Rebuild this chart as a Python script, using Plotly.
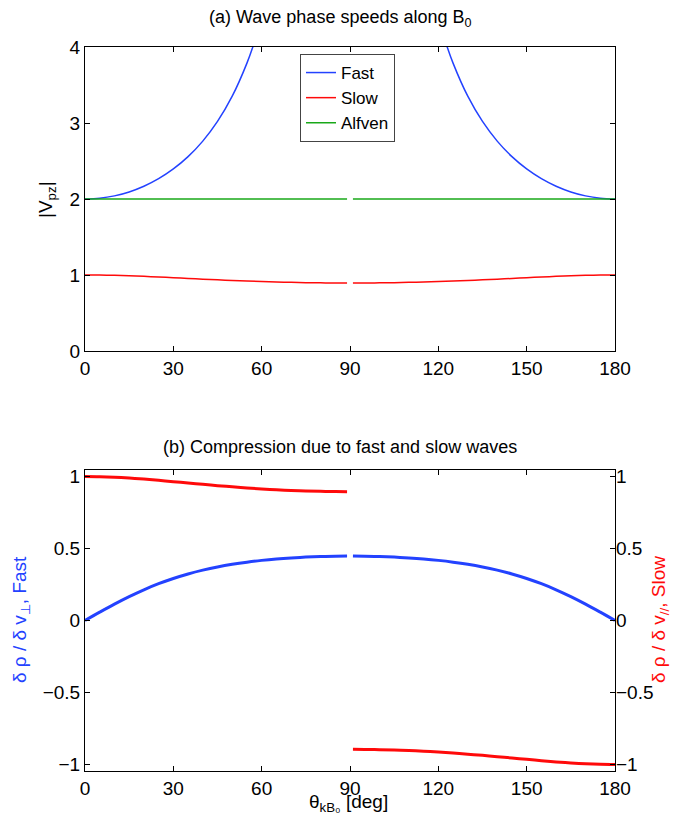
import plotly.graph_objects as go

# ---------------- data ----------------
theta_fast_l = [0, 5, 10, 15, 20, 25, 30, 35, 40, 45, 50, 55, 57.5, 60]
vfast_l = [2.0, 2.0102, 2.0409, 2.0929, 2.1675, 2.2671, 2.3952, 2.5573, 2.7617,
           3.0204, 3.3526, 3.7882, 4.0594, 4.3778]
theta_fast_r = [120, 122.5, 125, 130, 135, 140, 145, 150, 155, 160, 165, 170, 175, 180]
vfast_r = [4.3778, 4.0594, 3.7882, 3.3526, 3.0204, 2.7617, 2.5573, 2.3952, 2.2671,
           2.1675, 2.0929, 2.0409, 2.0102, 2.0]

theta_l = [0, 5, 10, 15, 20, 25, 30, 35, 40, 45, 50, 55, 60, 65, 70, 75, 80, 85, 89]
theta_r = [91, 95, 100, 105, 110, 115, 120, 125, 130, 135, 140, 145, 150, 155, 160,
           165, 170, 175, 180]

vslow_l = [1.0, 0.99872, 0.99507, 0.98933, 0.98194, 0.97338, 0.96415, 0.95475, 0.94537,
           0.93642, 0.92803, 0.92049, 0.91370, 0.90789, 0.90308, 0.89931, 0.89660,
           0.89497, 0.89445]
vslow_r = [0.89445, 0.89497, 0.89660, 0.89931, 0.90308, 0.90789, 0.91370, 0.92049,
           0.92803, 0.93642, 0.94537, 0.95475, 0.96415, 0.97338, 0.98194, 0.98933,
           0.99507, 0.99872, 1.0]

valf_l = [2.0] * 19
valf_r = [2.0] * 19

comp_fast_l = [0.0, 0.05784, 0.11369, 0.16590, 0.21332, 0.25537, 0.29192, 0.32322,
               0.34969, 0.37184, 0.39018, 0.40523, 0.41742, 0.42714, 0.43468, 0.44030,
               0.44418, 0.44646, 0.44718]
comp_fast_r = [0.44718, 0.44646, 0.44418, 0.44030, 0.43468, 0.42714, 0.41742, 0.40523,
               0.39018, 0.37184, 0.34969, 0.32322, 0.29192, 0.25537, 0.21332, 0.16590,
               0.11369, 0.05784, 0.0]
comp_slow_l = [1.0, 0.99872, 0.99507, 0.98933, 0.98194, 0.97338, 0.96415, 0.95475,
               0.94537, 0.93642, 0.92803, 0.92049, 0.91370, 0.90789, 0.90308, 0.89931,
               0.89660, 0.89497, 0.89445]
comp_slow_r = [-0.89445, -0.89497, -0.89660, -0.89931, -0.90308, -0.90789, -0.91370,
               -0.92049, -0.92803, -0.93642, -0.94537, -0.95475, -0.96415, -0.97338,
               -0.98194, -0.98933, -0.99507, -0.99872, -1.0]

x_ticks = [0, 30, 60, 90, 120, 150, 180]
y1_ticks = [0, 1, 2, 3, 4]
y2_ticks = [-1, -0.5, 0, 0.5, 1]
y2_ticktext = ["\u22121", "\u22120.5", "0", "0.5", "1"]

BLUE = "#2342ff"
RED = "#ff0a0a"
GREEN = "#19a819"
FONT = "Liberation Sans, Arial, sans-serif"


def join(a, b):
    return list(a) + [None] + list(b)


fig = go.Figure()

# top panel
fig.add_trace(go.Scatter(x=join(theta_fast_l, theta_fast_r), y=join(vfast_l, vfast_r),
                         mode="lines", name="Fast", line=dict(color=BLUE, width=1.5, shape="spline"),
                         xaxis="x", yaxis="y", connectgaps=False))
fig.add_trace(go.Scatter(x=join(theta_l, theta_r), y=join(vslow_l, vslow_r),
                         mode="lines", name="Slow", line=dict(color=RED, width=1.5, shape="spline"),
                         xaxis="x", yaxis="y", connectgaps=False))
fig.add_trace(go.Scatter(x=join(theta_l, theta_r), y=join(valf_l, valf_r),
                         mode="lines", name="Alfven", line=dict(color=GREEN, width=1.5),
                         xaxis="x", yaxis="y", connectgaps=False))

# bottom panel
fig.add_trace(go.Scatter(x=join(theta_l, theta_r), y=join(comp_fast_l, comp_fast_r),
                         mode="lines", showlegend=False, line=dict(color=BLUE, width=3, shape="spline"),
                         xaxis="x2", yaxis="y2", connectgaps=False))
fig.add_trace(go.Scatter(x=join(theta_l, theta_r), y=join(comp_slow_l, comp_slow_r),
                         mode="lines", showlegend=False, line=dict(color=RED, width=3, shape="spline"),
                         xaxis="x2", yaxis="y3", connectgaps=False))

# page has an 8px body margin: map reference pixel coords into figure paper coords
OFF = 8
W, H = 681 - 2 * OFF, 828 - 2 * OFF


def px(x):
    return (x - OFF) / W


def py(y):
    return 1 - (y - OFF) / H


xdom = [px(85), px(615)]
top_dom = [py(351), py(47)]
bot_dom = [py(771), py(470)]
TICKFONT = dict(family=FONT, size=19, color="black")

common = dict(showline=True, linecolor="black", linewidth=1, ticks="inside", ticklen=5,
              tickcolor="black", showgrid=False, zeroline=False, tickfont=TICKFONT)

fig.update_layout(
    width=W, height=H,
    margin=dict(l=0, r=0, t=0, b=0, autoexpand=False),
    paper_bgcolor="white", plot_bgcolor="white",
    font=dict(family=FONT, color="black"),
    xaxis=dict(domain=xdom, anchor="y", range=[0, 180], tickvals=x_ticks, mirror="ticks", **common),
    yaxis=dict(domain=top_dom, anchor="x", range=[0, 4], tickvals=y1_ticks, mirror="ticks", **common),
    xaxis2=dict(domain=xdom, anchor="y2", range=[0, 180], tickvals=x_ticks, mirror="ticks", **common),
    yaxis2=dict(domain=bot_dom, anchor="x2", range=[-1.045, 1.045], tickvals=y2_ticks,
                ticktext=y2_ticktext, mirror="ticks", **common),
    yaxis3=dict(domain=bot_dom, anchor="x2", overlaying="y2", side="right", range=[-1.045, 1.045],
                tickvals=y2_ticks, ticktext=y2_ticktext, showline=False, ticks="", showgrid=False,
                zeroline=False, tickfont=TICKFONT),
    legend=dict(x=px(300), y=py(54), xanchor="left", yanchor="top",
                bordercolor="#444", borderwidth=1, bgcolor="white",
                font=dict(family=FONT, size=17, color="black"), tracegroupgap=0,
                itemwidth=30),
    showlegend=True,
)

ann = [
    dict(text="(a) Wave phase speeds along B<sub>0</sub>", x=px(340), y=py(18),
         font=dict(size=18)),
    dict(text="(b) Compression due to fast and slow waves", x=px(340), y=py(447),
         font=dict(size=18)),
    dict(text="|V<sub>pz</sub>|", x=px(47), y=py(200), textangle=-90, font=dict(size=19)),
    dict(text="\u03b4 \u03c1 / \u03b4 v<sub>\u22a5</sub>, Fast", x=px(21), y=py(620),
         textangle=-90, font=dict(size=19, color=BLUE)),
    dict(text="\u03b4 \u03c1 / \u03b4 v<sub>//</sub>, Slow", x=px(660), y=py(620),
         textangle=-90, font=dict(size=19, color=RED)),
    dict(text="\u03b8<sub>kB\u2080</sub> [deg]", x=px(348), y=py(803), font=dict(size=19)),
]
for a in ann:
    a.update(xref="paper", yref="paper", showarrow=False, xanchor="center", yanchor="middle")
    a["font"].setdefault("family", FONT)
    a["font"].setdefault("color", "black")
fig.update_layout(annotations=ann)

fig.write_html("out.html")
